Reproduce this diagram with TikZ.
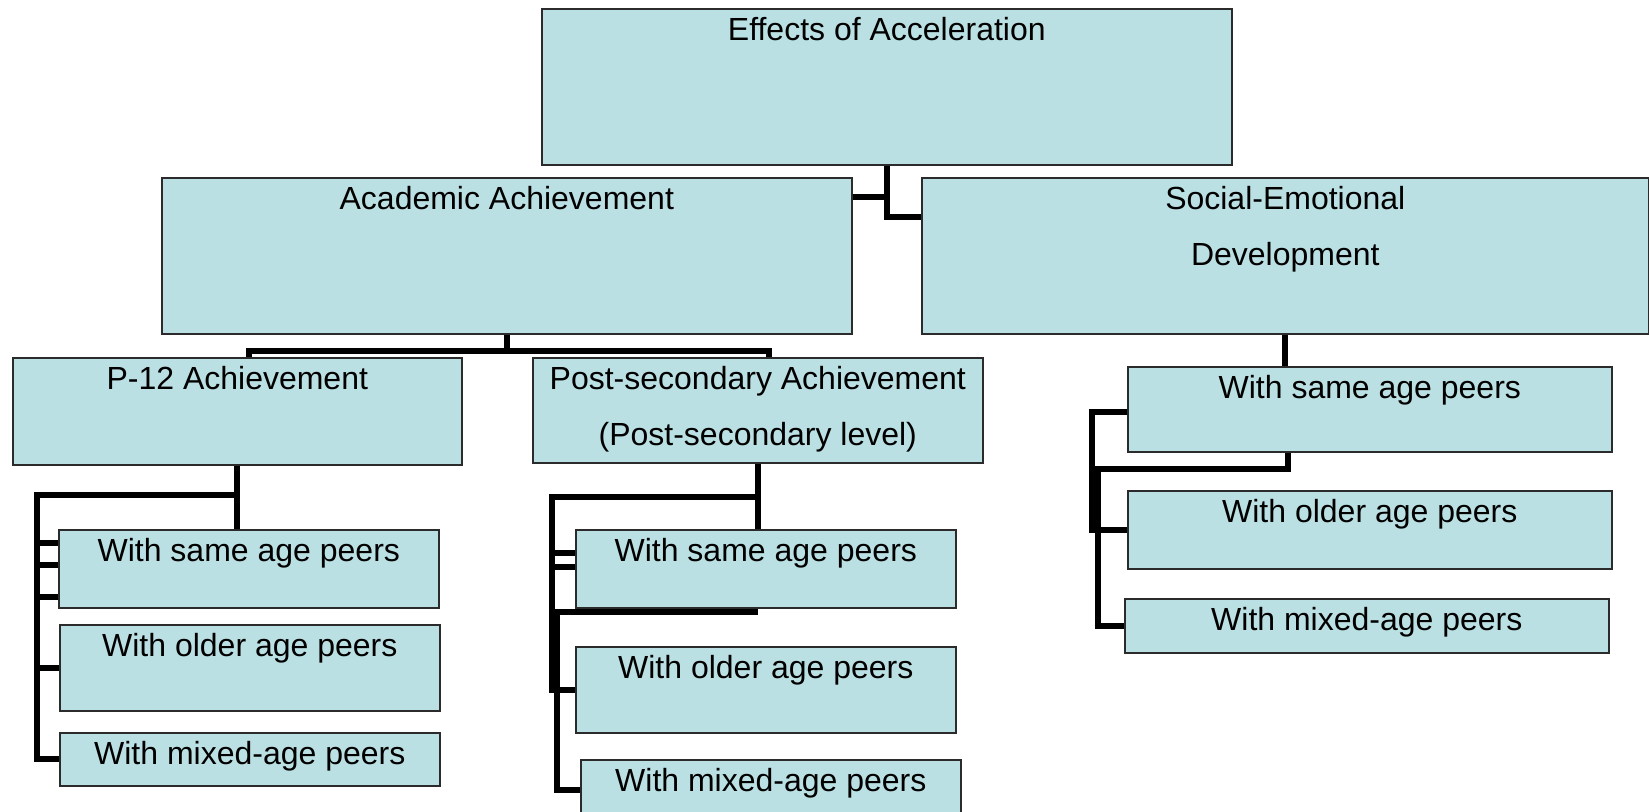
\documentclass[tikz,border=0pt]{standalone}
\usepackage{fontspec}
\setmainfont{Liberation Sans}
\definecolor{boxfill}{HTML}{BBE0E3}
\definecolor{boxline}{HTML}{2B2B2B}
\tikzset{
  box/.style={draw=boxline, fill=boxfill, line width=0.8pt, anchor=north west, inner sep=0pt},
  txt/.style={anchor=north, inner sep=0pt, align=center, font=\fontsize{16}{28}\selectfont},
  link/.style={line width=3pt, black},
}

\begin{document}
\begin{tikzpicture}[x=0.5pt, y=-0.5pt]
    \useasboundingbox (0,0) rectangle (1649,811);
    % boxes
    \node[box, minimum width=345pt, minimum height=78pt] (root) at (541,8) {};
    \node[box, minimum width=345pt, minimum height=78pt] (acad) at (161,177) {};
    \node[box, minimum width=363.5pt, minimum height=78pt] (soc) at (921,177) {};
    \node[box, minimum width=224.5pt, minimum height=53.5pt] (p12) at (12,357) {};
    \node[box, minimum width=225pt, minimum height=52.5pt] (post) at (532,357) {};
    \node[box, minimum width=190pt, minimum height=39pt] (lsame) at (58,529) {};
    \node[box, minimum width=190pt, minimum height=43pt] (lolder) at (59,624) {};
    \node[box, minimum width=190pt, minimum height=26.5pt] (lmixed) at (59,732) {};
    \node[box, minimum width=190pt, minimum height=39pt] (msame) at (575,529) {};
    \node[box, minimum width=190pt, minimum height=43pt] (molder) at (575,646) {};
    \node[box, minimum width=190pt, minimum height=30pt] (mmixed) at (580,759) {};
    \node[box, minimum width=242pt, minimum height=42.5pt] (rsame) at (1127,366) {};
    \node[box, minimum width=242pt, minimum height=39pt] (rolder) at (1127,490) {};
    \node[box, minimum width=242pt, minimum height=27pt] (rmixed) at (1124,598) {};

    % labels
    \node[txt] (rootT) at ([yshift=-4.5pt]root.north) {Effects of Acceleration};
    \node[txt] (acadT) at ([yshift=-4.5pt]acad.north) {Academic Achievement};
    \node[txt] (socT) at ([yshift=-4.5pt]soc.north) {Social-Emotional\\Development};
    \node[txt] (p12T) at ([yshift=-4.5pt]p12.north) {P-12 Achievement};
    \node[txt] (postT) at ([yshift=-4.5pt]post.north) {Post-secondary Achievement\\(Post-secondary level)};
    \node[txt] (lsameT) at ([yshift=-4.5pt]lsame.north) {With same age peers};
    \node[txt] (lolderT) at ([yshift=-4.5pt]lolder.north) {With older age peers};
    \node[txt] (lmixedT) at ([yshift=-4.5pt]lmixed.north) {With mixed-age peers};
    \node[txt] (msameT) at ([yshift=-4.5pt]msame.north) {With same age peers};
    \node[txt] (molderT) at ([yshift=-4.5pt]molder.north) {With older age peers};
    \node[txt] (mmixedT) at ([yshift=-4.5pt]mmixed.north) {With mixed-age peers};
    \node[txt] (rsameT) at ([yshift=-4.5pt]rsame.north) {With same age peers};
    \node[txt] (rolderT) at ([yshift=-4.5pt]rolder.north) {With older age peers};
    \node[txt] (rmixedT) at ([yshift=-4.5pt]rmixed.north) {With mixed-age peers};

    % top level links
    \draw[link] (root.south) |- ([yshift=-20pt]soc.north west);
    \draw[link] ([yshift=-10pt]acad.north east) -| (root.south);

    % academic achievement
    \draw[link] (acad.south) -- ++(0,16) -| ([xshift=6pt]p12.north);
    \draw[link] (acad.south) ++(0,16) -| ([xshift=5.5pt]post.north);

    % p-12 children
    \draw[link] (p12.south) -- (p12.south |- lsame.north);
    \draw[link] ([yshift=-14.5pt]p12.south) -| ([xshift=-11pt]lmixed.west) -- (lmixed.west);
    \foreach \d in {7,18,34}
        \draw[link] ([xshift=-10.5pt,yshift=-\d pt]lsame.north west) -- ++(21,0);
    \draw[link] ([xshift=-11pt]lolder.west) -- (lolder.west);

    % post-secondary children
    \draw[link] (post.south) -- (post.south |- msame.north);
    \draw[link] ([yshift=-16.5pt]post.south) -| ([xshift=-11.5pt]molder.west) -- (molder.west);
    \draw[link] ([xshift=-11.5pt,yshift=-1.5pt]msame.south west) -- ([yshift=-1.5pt]msame.south west -| post.south);
    \draw[link] ([xshift=-9pt,yshift=-1.5pt]msame.south west) |- (mmixed.west);
    \foreach \d in {12,19}
        \draw[link] ([xshift=-11.5pt,yshift=-\d pt]msame.north west) -- ++(23,0);

    % social-emotional children
    \draw[link] (soc.south) -- (soc.south |- rsame.north);
    \draw[link] ([yshift=-23pt]rsame.north west) -- ++(-35,0) |- (rolder.west);
    \draw[link] ([xshift=-17.5pt,yshift=-8pt]rsame.south west) -| ([xshift=1.5pt]rsame.south -| soc.south);
    \draw[link] ([xshift=-14.5pt,yshift=-8pt]rsame.south west) |- (rmixed.west);
\end{tikzpicture}
\end{document}
